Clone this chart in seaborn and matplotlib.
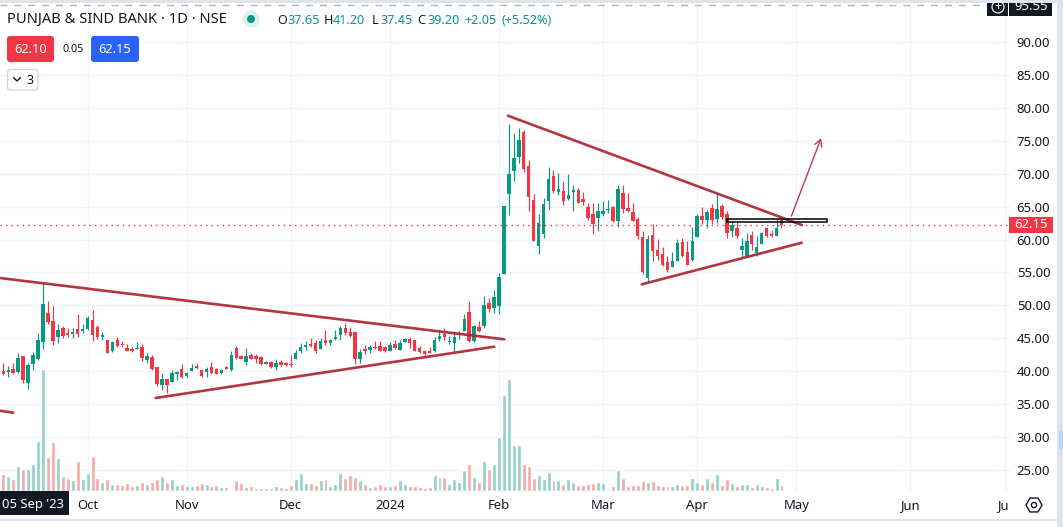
import numpy as np
import pandas as pd
import matplotlib
matplotlib.use("Agg")
import matplotlib.pyplot as plt
from matplotlib.patches import Rectangle, FancyBboxPatch, Circle, RegularPolygon
from matplotlib.transforms import Bbox
import seaborn as sns

opens = [40.05,39.95,40.35,39.9,42.3,38.2,41.1,41.85,44.5,48.85,
47.65,45.25,46.55,45.8,45.7,46.4,46.05,46.4,47.8,46.7,
45.2,44.75,43.0,44.75,44.15,43.55,43.4,43.45,43.7,41.7,
42.1,40.65,37.9,38.85,38.4,39.6,40.35,39.3,40.05,40.8,
40.2,39.9,40.65,40.35,39.75,40.65,40.2,43.55,42.3,41.4,
42.5,42.3,42.15,41.1,41.45,40.6,41.45,41.3,41.1,41.85,
43.05,43.7,44.15,44.3,43.4,44.75,44.3,44.9,45.5,46.55,
45.95,45.95,41.85,43.4,43.25,43.7,43.85,43.7,43.1,44.15,
43.25,44.45,44.9,44.75,43.55,43.05,43.05,43.05,44.9,45.65,
44.5,44.3,45.45,46.1,49.0,44.6,46.7,46.85,50.35,49.6,
49.9,54.75,66.9,70.4,72.55,76.3,71.15,66.0,59.0,60.85,
65.85,69.65,67.2,67.35,66.15,67.2,67.5,66.15,64.95,63.9,
63.25,63.9,64.5,64.95,62.8,67.05,64.8,64.2,63.1,60.4,
54.15,60.7,58.4,57.8,56.6,55.85,56.75,59.65,58.1,56.9,
60.4,63.6,62.95,64.8,63.1,65.1,63.9,61.3,61.75,58.4,
57.5,60.7,57.95,59.35,61.75,60.85,60.55,62.95]
closes = [39.55,40.2,39.75,42.0,38.6,40.95,42.5,44.75,50.2,47.55,
44.65,46.25,45.35,45.5,45.95,45.65,46.4,48.1,45.55,45.2,
45.5,42.7,44.45,43.85,44.0,43.1,43.15,43.55,42.05,42.3,
40.35,38.1,38.85,37.9,39.75,39.9,39.15,39.75,40.5,40.5,
39.3,40.35,39.75,39.6,40.2,40.35,42.5,42.0,41.9,42.3,
41.85,41.85,41.05,41.35,40.65,41.25,40.95,41.0,41.0,42.75,
43.7,44.0,43.85,43.05,44.6,44.3,44.75,45.2,46.55,45.8,
45.35,41.85,42.9,43.05,43.7,43.6,43.05,43.05,44.0,43.55,
44.3,44.9,44.3,43.05,42.9,42.6,42.75,44.75,45.35,45.2,
44.6,45.2,45.65,47.95,44.6,46.85,46.1,50.05,49.45,51.25,
54.35,65.1,69.95,72.4,75.1,70.7,66.45,59.8,62.5,65.4,
69.2,67.35,67.65,65.85,66.75,67.5,65.55,65.7,63.25,62.35,
64.35,64.35,64.65,62.8,67.65,64.65,64.35,62.8,60.55,55.05,
60.1,58.25,57.5,56.15,55.4,56.75,59.5,57.5,56.15,59.8,
63.6,62.95,64.2,62.95,64.65,63.45,61.0,62.2,60.55,59.05,
59.8,59.35,58.9,61.0,60.55,60.55,61.75,62.15]
highs = [41.25,40.8,41.2,42.7,42.3,41.2,42.95,45.85,53.45,50.7,
49.9,47.2,46.85,46.55,46.55,48.7,47.2,48.4,49.3,47.05,
45.95,44.75,44.6,45.2,44.6,44.15,43.65,44.45,44.15,42.7,
42.5,40.65,39.75,38.85,40.2,40.05,41.1,39.9,41.1,41.25,
40.35,40.65,41.4,40.5,40.35,40.8,43.1,43.85,42.5,43.55,
42.8,42.6,42.3,41.55,41.55,41.8,41.65,41.45,42.45,43.25,
44.3,44.6,45.05,44.75,45.05,46.25,44.9,46.25,46.85,47.3,
46.7,46.1,43.4,44.0,44.0,44.6,44.6,43.85,44.45,44.75,
44.75,45.05,45.2,44.75,43.85,43.25,43.7,45.2,46.4,46.55,
45.35,46.1,46.1,48.7,50.65,47.0,47.65,51.5,51.1,52.35,
54.85,65.1,77.55,76.15,76.95,76.6,72.05,66.9,63.9,66.3,
71.0,70.55,70.1,68.75,69.95,68.3,67.8,67.2,65.55,65.55,
65.55,65.85,66.0,65.1,68.3,68.3,67.05,65.55,63.45,61.3,
60.7,62.35,60.1,58.9,57.5,58.1,60.1,60.25,59.8,61.9,
63.9,64.95,64.5,65.4,66.9,65.4,64.35,62.8,62.8,60.25,
61.0,61.3,60.55,61.15,61.75,61.45,63.1,63.1]
lows = [39.4,39.2,39.65,39.7,38.15,37.35,40.2,41.75,43.45,47.2,
44.0,44.35,45.05,45.25,45.05,45.25,45.8,46.25,44.65,44.9,
44.75,42.7,42.95,43.7,43.7,43.1,42.95,43.4,41.55,41.25,
40.2,37.75,37.15,36.7,38.4,38.7,39.0,39.15,40.05,40.35,
39.15,39.15,39.6,39.6,39.6,40.35,40.05,41.85,41.85,40.95,
41.85,41.25,40.95,41.05,40.55,40.2,40.85,40.85,40.65,41.85,
42.75,43.25,43.7,42.75,43.4,44.0,44.0,44.75,44.75,45.5,
45.2,41.1,41.25,42.6,42.75,43.4,43.05,42.9,43.05,43.4,
43.25,44.45,43.55,43.05,42.75,42.15,42.75,42.9,44.6,44.75,
44.15,42.9,44.9,46.1,44.45,44.45,45.95,46.55,49.0,48.85,
48.7,54.75,63.75,68.9,71.6,70.25,64.35,59.8,57.8,60.25,
64.5,67.05,66.75,65.25,66.0,64.35,65.55,65.25,62.95,60.85,
61.3,63.6,64.05,62.65,61.9,64.05,64.2,62.8,60.1,54.75,
53.55,56.75,56.9,56.0,55.1,55.85,56.75,57.35,56.15,56.75,
60.4,62.35,61.75,62.35,62.5,63.1,60.25,60.4,60.25,57.35,
57.35,58.4,57.5,59.35,60.4,60.4,60.55,61.75]
volumes = [17,15,12,25,22,22,27,50,122,34,49,33,15,13,11,30,12,18,35,13,
9,12,7,7,6,8,5,6,9,7,9,12,15,9,12,6,7,5,5,6,
8,7,5,6,4,4,1,11,8,4,5,3,3,3,3,5,4,3,6,12,
18,8,8,6,11,12,5,7,18,13,16,14,11,7,4,5,7,5,5,6,
11,7,5,5,4,3,4,16,14,14,7,12,9,21,27,14,9,30,22,27,
54,96,112,46,46,27,25,13,16,12,19,11,11,7,12,9,6,6,7,8,
9,8,2,5,21,13,5,6,6,10,9,10,6,5,5,5,7,6,6,13,
9,7,13,9,17,6,12,8,5,7,7,4,7,5,4,3,13,6]

time_labels = ["Oct", "Nov", "Dec", "2024", "Feb", "Mar", "Apr", "May", "Jun", "Jul"]
time_ticks = [17, 37, 58, 78, 100, 121, 140, 160, 183, 202]
price_ticks = [90, 85, 80, 75, 70, 65, 60, 55, 50, 45, 40, 35, 30, 25]
last_price = 62.15
top_price = 95.55

trend_upper_left = ([-0.67, 101.07], [54.16, 44.85])
trend_lower_left = ([30.74, 99.05], [35.94, 43.73])
trend_stub = ([-0.67, 2.0], [34.01, 33.70])
trend_upper_right = ([101.8, 161.1], [78.81, 62.21])
trend_lower_right = ([128.8, 161.1], [53.20, 59.52])
arrow_start = (159.0, 63.58)
arrow_end = (165.0, 75.40)
box_k = (146.05, 166.1)
box_p = (62.71, 63.12)

UP = "#089981"; DOWN = "#F23645"
UP_V = "#91D1C9"; DOWN_V = "#F7A8A8"
GRID = "#F0F3FA"; INK = "#131722"; TREND = "#AE2A36"; PANEL = "#E0E3EB"

sns.set_theme(style="white")
plt.rcParams["font.family"] = ["Noto Sans", "DejaVu Sans"]

W, H = 1063, 527
fig = plt.figure(figsize=(W / 100, H / 100), dpi=100, facecolor="white")

def area(l, t, r, b):
    return [l / W, 1 - b / H, (r - l) / W, (b - t) / H]

n = len(opens)
k = np.arange(n)
df = pd.DataFrame({"k": k, "open": opens, "high": highs, "low": lows, "close": closes, "volume": volumes})
df["dir"] = np.where(df["close"] >= df["open"], "up", "down")
xlim = (-0.666, 203.1)
ylim = (21.815, 96.378)

base = fig.add_axes(area(0, 0, 1010, 491))
base.set_xlim(*xlim); base.set_ylim(*ylim)

vol = base.twinx()
vol.set_zorder(1)
vol.patch.set_visible(False)
sns.barplot(data=df, x="k", y="volume", hue="dir", palette={"up": UP_V, "down": DOWN_V},
            native_scale=True, dodge=False, width=0.8, saturation=1, errorbar=None,
            legend=False, ax=vol)
vol.set_xlim(*xlim); vol.set_ylim(0, 491)
vol.axis("off")

ax = base.twinx()
ax.set_zorder(2)
ax.patch.set_visible(False)
ax.set_xlim(*xlim); ax.set_ylim(*ylim)
cols = np.where(df["dir"] == "up", UP, DOWN)
ax.vlines(df["k"], df["low"], df["high"], colors=cols, lw=0.85, zorder=3)
ax.bar(df["k"], np.maximum((df["close"] - df["open"]).abs(), 0.08),
       bottom=df[["open", "close"]].min(axis=1), width=0.7, color=cols, lw=0, zorder=4)

ax.axhline(top_price, color="#B2B5BE", lw=1, dashes=(5, 5), zorder=2)
ax.axhline(last_price, color=DOWN, lw=1, dashes=(1, 3), zorder=5)
for line in (trend_upper_left, trend_lower_left, trend_stub, trend_upper_right, trend_lower_right):
    sns.lineplot(x=line[0], y=line[1], color=TREND, lw=1.9, alpha=0.95, ax=ax, zorder=6,
                 estimator=None, sort=False, legend=False)
ax.set_xlim(*xlim); ax.set_ylim(*ylim); ax.axis("off")
ax.annotate("", xy=arrow_end, xytext=arrow_start, zorder=7,
            arrowprops=dict(arrowstyle="->,head_length=0.4,head_width=0.22", color="#C2336B", lw=1.0,
                            shrinkA=0, shrinkB=0))
ax.add_patch(Rectangle((box_k[0], box_p[0]), box_k[1] - box_k[0], box_p[1] - box_p[0],
                       fill=False, ec="black", lw=1.1, zorder=7))

# the axis furniture is set last: twinx moves the base y axis back to the left
base.set_xticks(time_ticks); base.set_xticklabels(time_labels)
base.set_yticks(price_ticks); base.set_yticklabels([f"{p:.2f}" for p in price_ticks])
base.yaxis.tick_right()
base.grid(True, color=GRID, lw=1.0)
base.set_axisbelow(True)
base.tick_params(axis="both", length=0, labelcolor=INK, labelsize=9.4)
base.tick_params(axis="x", pad=5.8)
base.tick_params(axis="y", pad=4.8)
for s in base.spines.values():
    s.set_visible(False)
for lbl in base.get_xticklabels():
    if lbl.get_text() == "2024":
        lbl.set_fontweight("bold")
    if lbl.get_text() == "Jul":
        lbl.set_clip_box(Bbox([[0, 0], [1008, H]]))
        lbl.set_clip_on(True)

# interface chrome, in pixel coordinates
ui = fig.add_axes([0, 0, 1, 1], zorder=5)
ui.set_xlim(0, W); ui.set_ylim(H, 0); ui.axis("off"); ui.patch.set_visible(False)

def rect(x0, y0, x1, y1, c, z=1):
    ui.add_patch(Rectangle((x0, y0), x1 - x0, y1 - y0, fc=c, ec="none", zorder=z))

def rbox(x0, y0, x1, y1, fc, ec="none", lw=0):
    ui.add_patch(FancyBboxPatch((x0 + 2, y0 + 2), x1 - x0 - 4, y1 - y0 - 4,
                                boxstyle="round,pad=2,rounding_size=3", fc=fc, ec=ec, lw=lw, zorder=2))

rect(0, 0, W, 2.5, PANEL, 3)
rect(1057, 0, W, H, PANEL, 3)
rect(1059, 430, W, 450, "#BBD9FB", 4)
rect(0, 519, 1057, 521, PANEL, 3)
rect(0, 491, 69, 515, INK, 3)
ui.text(33, 504.5, "05 Sep '23", color="white", fontsize=9.4, ha="center", va="center", zorder=4)

rect(987, 0, 1008, 16, INK, 2)
rect(1009, 0, 1052, 16, INK, 2)
ui.add_patch(Circle((998, 7), 6, fc="none", ec="white", lw=0.8, zorder=3))
ui.text(998, 6.5, "+", color="white", fontsize=9, ha="center", va="center", zorder=4)
ui.text(1031, 7, "95.55", color="white", fontsize=9.4, fontweight="bold", ha="center", va="center", zorder=2.5)
rect(1009, 217, 1052.5, 233, DOWN, 2)
ui.text(1031, 225, "62.15", color="white", fontsize=9.4, fontweight="bold", ha="center", va="center", zorder=3)

ui.add_patch(RegularPolygon((1034, 505), 6, radius=8, orientation=np.pi / 6, fc="none", ec=INK, lw=1, zorder=3))
ui.add_patch(Circle((1034, 505), 2.6, fc="none", ec=INK, lw=1, zorder=3))

ui.text(7, 19.5, "PUNJAB & SIND BANK · 1D · NSE", color=INK, fontsize=10.6, ha="left", va="center")
ui.add_patch(Circle((251, 19), 8.5, fc="#DDF2EF", ec="none", zorder=1))
ui.add_patch(Circle((251, 19), 4, fc=UP, ec="none", zorder=2))
header = [(277, "O", INK), (287, "37.65", UP), (324, "H", INK), (333, "41.20", UP), (372, "L", INK),
          (380, "37.45", UP), (417, "C", INK), (427, "39.20", UP), (464, "+2.05", UP), (501, "(+5.52%)", UP)]
for x, t, c in header:
    ui.text(x, 20, t, color=c, fontsize=9.1, ha="left", va="center")

rbox(7, 36, 54, 62, DOWN)
ui.text(30.5, 49.5, "62.10", color="white", fontsize=9.2, ha="center", va="center", zorder=3)
ui.text(73, 49, "0.05", color=INK, fontsize=7.8, ha="center", va="center")
rbox(91, 36, 139, 62, "#2962FF")
ui.text(115, 49.5, "62.15", color="white", fontsize=9.2, ha="center", va="center", zorder=3)
rbox(7.5, 69.5, 38, 90, "white", ec="#D1D4DC", lw=0.9)
ui.plot([13.5, 17, 20.5], [77.5, 81, 77.5], color=INK, lw=1, zorder=3)
ui.text(30, 80, "3", color=INK, fontsize=9, ha="center", va="center", zorder=3)

fig.savefig("out.png", dpi=100, facecolor="white")
